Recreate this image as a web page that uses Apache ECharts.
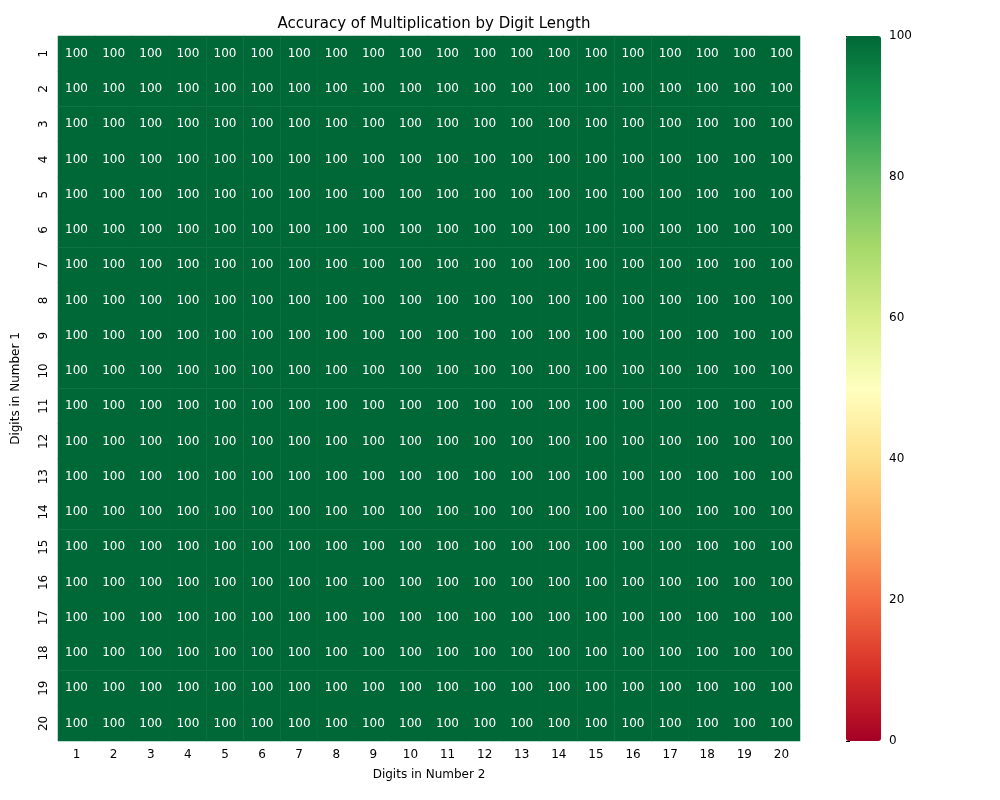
<!DOCTYPE html>
<html>
<head>
<meta charset="utf-8">
<script src="https://cdn.jsdelivr.net/npm/echarts@6/dist/echarts.min.js"></script>
<style>html,body{margin:0;padding:0;background:#fff}#chart{width:1000px;height:800px}</style>
</head>
<body>
<div id="chart"></div>
<script>
var digits2 = ['1','2','3','4','5','6','7','8','9','10','11','12','13','14','15','16','17','18','19','20'];
var digits1 = ['1','2','3','4','5','6','7','8','9','10','11','12','13','14','15','16','17','18','19','20'];
// 准确率 (%) 行 = Number 1 位数, 列 = Number 2 位数
var accuracy = [
    [100,100,100,100,100,100,100,100,100,100,100,100,100,100,100,100,100,100,100,100],
    [100,100,100,100,100,100,100,100,100,100,100,100,100,100,100,100,100,100,100,100],
    [100,100,100,100,100,100,100,100,100,100,100,100,100,100,100,100,100,100,100,100],
    [100,100,100,100,100,100,100,100,100,100,100,100,100,100,100,100,100,100,100,100],
    [100,100,100,100,100,100,100,100,100,100,100,100,100,100,100,100,100,100,100,100],
    [100,100,100,100,100,100,100,100,100,100,100,100,100,100,100,100,100,100,100,100],
    [100,100,100,100,100,100,100,100,100,100,100,100,100,100,100,100,100,100,100,100],
    [100,100,100,100,100,100,100,100,100,100,100,100,100,100,100,100,100,100,100,100],
    [100,100,100,100,100,100,100,100,100,100,100,100,100,100,100,100,100,100,100,100],
    [100,100,100,100,100,100,100,100,100,100,100,100,100,100,100,100,100,100,100,100],
    [100,100,100,100,100,100,100,100,100,100,100,100,100,100,100,100,100,100,100,100],
    [100,100,100,100,100,100,100,100,100,100,100,100,100,100,100,100,100,100,100,100],
    [100,100,100,100,100,100,100,100,100,100,100,100,100,100,100,100,100,100,100,100],
    [100,100,100,100,100,100,100,100,100,100,100,100,100,100,100,100,100,100,100,100],
    [100,100,100,100,100,100,100,100,100,100,100,100,100,100,100,100,100,100,100,100],
    [100,100,100,100,100,100,100,100,100,100,100,100,100,100,100,100,100,100,100,100],
    [100,100,100,100,100,100,100,100,100,100,100,100,100,100,100,100,100,100,100,100],
    [100,100,100,100,100,100,100,100,100,100,100,100,100,100,100,100,100,100,100,100],
    [100,100,100,100,100,100,100,100,100,100,100,100,100,100,100,100,100,100,100,100],
    [100,100,100,100,100,100,100,100,100,100,100,100,100,100,100,100,100,100,100,100]
];
var colorbarTicks = [0, 20, 40, 60, 80, 100];
var rdylgn = ['#a50026','#d73027','#f46d43','#fdae61','#fee08b','#ffffbf','#d9ef8b','#a6d96a','#66bd63','#1a9850','#006837'];

var cells = [];
for (var i = 0; i < accuracy.length; i++) {
    for (var j = 0; j < accuracy[i].length; j++) {
        cells.push([j, i, accuracy[i][j]]);
    }
}

var chart = echarts.init(document.getElementById('chart'));
chart.setOption({
    animation: false,
    textStyle: { fontFamily: 'DejaVu Sans' },
    title: {
        text: 'Accuracy of Multiplication by Digit Length',
        left: 429, top: 12, textAlign: 'center',
        textStyle: { fontSize: 15, fontWeight: 'normal', color: '#000' }
    },
    grid: [
        { left: 58, top: 36, width: 742, height: 705 },
        { left: 846, top: 36, width: 35, height: 705 }
    ],
    xAxis: [{
        type: 'category', data: digits2, gridIndex: 0,
        name: 'Digits in Number 2', nameLocation: 'middle', nameGap: 28,
        nameTextStyle: { fontSize: 12, color: '#000' },
        axisLine: { show: false }, splitArea: { show: false },
        axisTick: { alignWithLabel: true, length: 4, lineStyle: { color: '#000' } },
        axisLabel: { color: '#000', fontSize: 12, margin: 8 }
    }, {
        type: 'value', gridIndex: 1, show: false
    }],
    yAxis: [{
        type: 'category', data: digits1, gridIndex: 0, inverse: true,
        name: 'Digits in Number 1', nameLocation: 'middle', nameGap: 36,
        nameTextStyle: { fontSize: 12, color: '#000' },
        axisLine: { show: false },
        axisTick: { alignWithLabel: true, length: 4, lineStyle: { color: '#000' } },
        axisLabel: { color: '#000', fontSize: 12, rotate: 90, margin: 8 }
    }, {
        type: 'value', gridIndex: 1, position: 'right', min: colorbarTicks[0], max: colorbarTicks[colorbarTicks.length - 1], interval: 20,
        axisLine: { show: false }, splitLine: { show: false },
        axisTick: { show: true, length: 4, lineStyle: { color: '#000' } },
        axisLabel: { color: '#000', fontSize: 12, margin: 8 }
    }],
    visualMap: {
        type: 'continuous', min: 0, max: 100, seriesIndex: 0,
        calculable: false, text: ['', ''], showLabel: false,
        left: 846, top: 36, itemWidth: 35, itemHeight: 705, padding: 0,
        inRange: { color: rdylgn }
    },
    series: [{
        type: 'heatmap', xAxisIndex: 0, yAxisIndex: 0,
        data: cells,
        label: { show: true, color: '#fff', fontSize: 12 },
        itemStyle: { borderWidth: 0 },
        emphasis: { disabled: true }
    }]
});
</script>
</body>
</html>
